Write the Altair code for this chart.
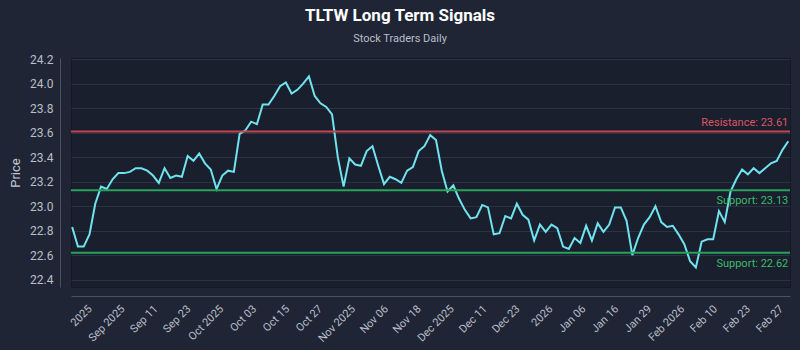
import json
import altair as alt
import pandas as pd

# ---- data ----
prices = [
    22.83, 22.67, 22.67, 22.77, 23.02, 23.16, 23.14, 23.22, 23.27, 23.27,
    23.28, 23.31, 23.31, 23.29, 23.25, 23.19, 23.31, 23.23, 23.25, 23.24,
    23.41, 23.37, 23.43, 23.35, 23.30, 23.14, 23.25, 23.29, 23.28, 23.59,
    23.62, 23.69, 23.67, 23.83, 23.83, 23.90, 23.98, 24.01, 23.92, 23.95,
    24.00, 24.06, 23.90, 23.84, 23.81, 23.75, 23.40, 23.16, 23.39, 23.34,
    23.33, 23.45, 23.49, 23.33, 23.18, 23.24, 23.22, 23.19, 23.29, 23.32,
    23.45, 23.49, 23.58, 23.54, 23.29, 23.12, 23.17, 23.06, 22.97, 22.90,
    22.91, 23.01, 22.99, 22.77, 22.78, 22.92, 22.90, 23.02, 22.93, 22.89,
    22.72, 22.85, 22.79, 22.85, 22.82, 22.67, 22.65, 22.74, 22.70, 22.84,
    22.72, 22.86, 22.79, 22.85, 22.99, 22.99, 22.88, 22.60, 22.74, 22.85,
    22.91, 23.00, 22.87, 22.83, 22.84, 22.77, 22.69, 22.55, 22.50, 22.71,
    22.73, 22.73, 22.96, 22.87, 23.12, 23.22, 23.30, 23.26, 23.31, 23.27,
    23.31, 23.35, 23.37, 23.46, 23.53,
]

tick_labels = [
    "2025", "Sep 2025", "Sep 11", "Sep 23", "Oct 2025", "Oct 03", "Oct 15",
    "Oct 27", "Nov 2025", "Nov 06", "Nov 18", "Dec 2025", "Dec 11", "Dec 23",
    "2026", "Jan 06", "Jan 16", "Jan 29", "Feb 2026", "Feb 10", "Feb 23",
    "Feb 27",
]

level_names = ["Resistance", "Support", "Support"]
level_values = [23.61, 23.13, 22.62]

y_ticks = [22.4, 22.6, 22.8, 23.0, 23.2, 23.4, 23.6, 23.8, 24.0, 24.2]

# ---- tables ----
df = pd.DataFrame({"i": list(range(len(prices))), "price": prices})
last_i = len(prices) - 1
levels = pd.DataFrame({
    "kind": level_names,
    "value": level_values,
    "label": [f"{k}: {v:.2f}" for k, v in zip(level_names, level_values)],
    "xi": [last_i] * len(level_values),
})

tick_start, tick_step = 3.07, 5.70
tick_values = [tick_start + k * tick_step for k in range(len(tick_labels))]
label_expr = f"{json.dumps(tick_labels)}[round((datum.value - {tick_start}) / {tick_step})]"

FONT = "Roboto"
x_scale = alt.Scale(domain=[-0.2, 124.3], nice=False, zero=False)
y_scale = alt.Scale(domain=[22.34, 24.21], nice=False, zero=False)

x_axis = alt.Axis(
    values=tick_values, labelExpr=label_expr, title=None,
    labelAngle=-45, labelAlign="right", labelBaseline="middle",
    ticks=False, grid=False, offset=9, labelPadding=11,
    domainColor="#4a5163", labelColor="#b9bec9", labelFontSize=11,
    labelFont=FONT, labelOverlap=False, labelFlush=False, labelBound=False,
)
y_axis = alt.Axis(
    values=y_ticks, format=".1f", title="Price", ticks=False,
    offset=11, labelPadding=7, domainColor="#4a5163",
    labelColor="#b9bec9", labelFontSize=12, labelFont=FONT,
    labelOverlap=False, labelFlush=False, labelBound=False,
    titleColor="#c3c7d0", titleFontSize=13, titleFont=FONT,
    titleFontWeight="normal", titlePadding=7,
    gridColor="#2b3244", gridWidth=1,
)

line = alt.Chart(df).mark_line(color="#6fe3ef", strokeWidth=2).encode(
    x=alt.X("i:Q", scale=x_scale, axis=x_axis),
    y=alt.Y("price:Q", scale=y_scale, axis=y_axis),
)

color_scale = alt.Scale(domain=["Resistance", "Support"], range=["#c24652", "#27a35b"])
text_scale = alt.Scale(domain=["Resistance", "Support"], range=["#dc5562", "#3dbb6b"])

rules = alt.Chart(levels).mark_rule(strokeWidth=2).encode(
    y=alt.Y("value:Q", scale=y_scale, axis=y_axis),
    color=alt.Color("kind:N", scale=color_scale, legend=None),
)

res_text = alt.Chart(levels).transform_filter(alt.datum.kind == "Resistance").mark_text(
    align="right", baseline="bottom", dy=-3, fontSize=11, font=FONT
).encode(
    x=alt.X("xi:Q", scale=x_scale, axis=x_axis),
    y=alt.Y("value:Q", scale=y_scale, axis=y_axis),
    text="label:N",
    color=alt.Color("kind:N", scale=text_scale, legend=None),
)
sup_text = alt.Chart(levels).transform_filter(alt.datum.kind == "Support").mark_text(
    align="right", baseline="top", dy=5, fontSize=11, font=FONT
).encode(
    x=alt.X("xi:Q", scale=x_scale, axis=x_axis),
    y=alt.Y("value:Q", scale=y_scale, axis=y_axis),
    text="label:N",
    color=alt.Color("kind:N", scale=text_scale, legend=None),
)

chart = alt.layer(line, rules, res_text, sup_text).resolve_scale(color="independent").properties(
    width=719, height=229,
    background="#1f2535",
    padding={"left": 71, "top": 58, "right": 10, "bottom": 63},
    autosize=alt.AutoSizeParams(type="none"),
    title=alt.TitleParams(
        "TLTW Long Term Signals", subtitle="Stock Traders Daily",
        anchor="middle", dx=-30.5, offset=8,
        color="#ffffff", fontSize=17, fontWeight="bold", font=FONT,
        subtitleColor="#b9bec9", subtitleFontSize=11, subtitleFont=FONT,
        subtitlePadding=8,
    ),
).configure_view(fill="#1a1f2d", stroke="#141824", strokeWidth=1)

chart.save("out.html", embed_options={"renderer": "svg", "actions": False})
